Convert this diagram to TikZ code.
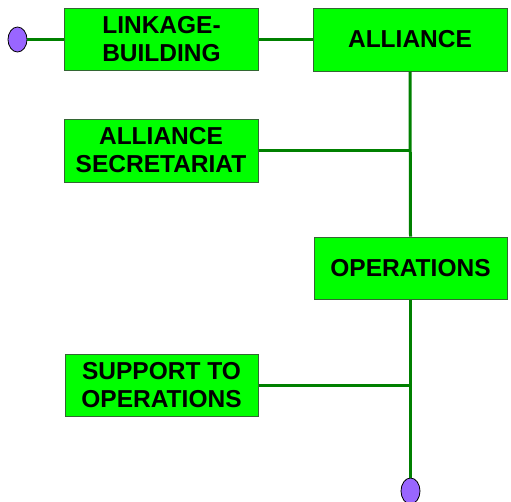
\documentclass[tikz,border=0pt]{standalone}
\usepackage{fontspec}
\setmainfont{Liberation Sans}
\usetikzlibrary{shapes.geometric}
\definecolor{boxfill}{HTML}{00FF00}
\definecolor{boxline}{HTML}{336633}
\definecolor{wire}{HTML}{008000}
\definecolor{dotfill}{HTML}{9966FF}
\begin{document}
\begin{tikzpicture}[x=1pt,y=-1pt,
  unitbox/.style={draw=boxline,line width=1pt,fill=boxfill,inner sep=0pt,align=center,
    font=\fontsize{24.5}{28}\selectfont\bfseries,text=black},
  endpoint/.style={ellipse,draw=black,line width=0.8pt,fill=dotfill,inner sep=0pt,minimum width=19pt,minimum height=25pt},
  wireline/.style={draw=wire,line width=3pt}]
\useasboundingbox (0,0) rectangle (511,501);
\node[unitbox,minimum width=194pt,minimum height=62pt] (link) at (161.5,39.5) {LINKAGE-\\BUILDING};
\node[unitbox,minimum width=194pt,minimum height=63pt] (all) at (410,39.5) {ALLIANCE};
\node[unitbox,minimum width=194pt,minimum height=63pt] (sec) at (161,150.5) {ALLIANCE\\SECRETARIAT};
\node[unitbox,minimum width=193pt,minimum height=62pt] (ops) at (410.5,268) {OPERATIONS};
\node[unitbox,minimum width=193pt,minimum height=62pt] (sup) at (161.5,385) {SUPPORT TO\\OPERATIONS};
\node[endpoint] (e1) at (17.5,39.5) {};
\node[endpoint,minimum height=26pt] (e2) at (410.5,491) {};
\coordinate (j1) at (all.south |- sec.east);
\coordinate (j2) at (ops.south |- sup.east);
\draw[wireline] (e1.east) -- (link.west);
\draw[wireline] (link.east) -- (all.west);
\draw[wireline] (all.south) -- (ops.north);
\draw[wireline] (sec.east) -- (j1);
\draw[wireline] (ops.south) -- (e2.north);
\draw[wireline] (sup.east) -- (j2);
\end{tikzpicture}
\end{document}
